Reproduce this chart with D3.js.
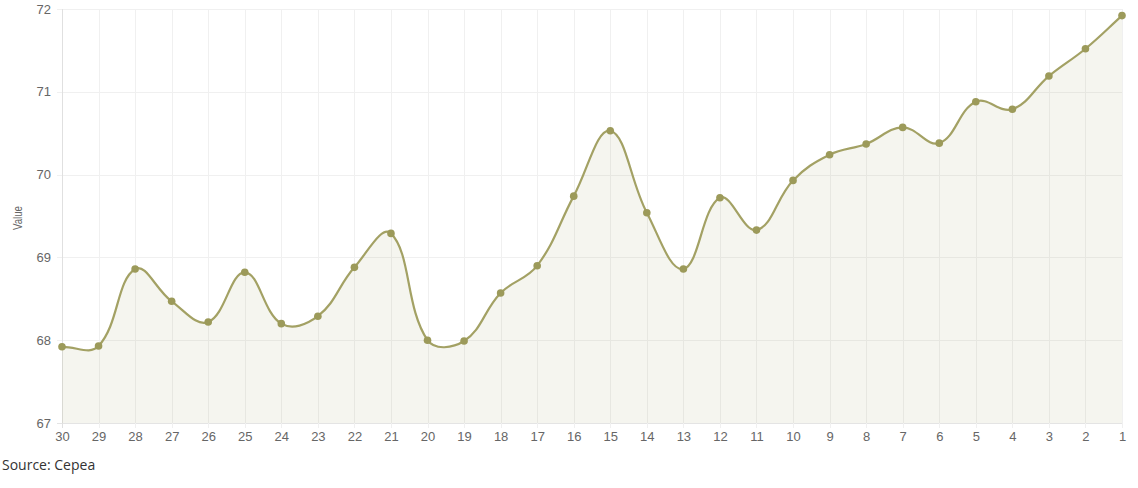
<!DOCTYPE html>
<html>
<head>
<meta charset="utf-8">
<script src="https://cdn.jsdelivr.net/npm/d3@7"></script>
<style>
  html, body { margin: 0; padding: 0; background: #fff; }
  svg { display: block; }
</style>
</head>
<body>
<svg id="chart" width="1138" height="488"></svg>
<script>
// ---- data ----
const categories = ["30","29","28","27","26","25","24","23","22","21","20","19","18","17","16","15","14","13","12","11","10","9","8","7","6","5","4","3","2","1"];
const values = [67.92,67.93,68.86,68.47,68.22,68.82,68.20,68.29,68.88,69.29,68.00,67.99,68.57,68.90,69.74,70.53,69.54,68.86,69.72,69.33,69.93,70.24,70.37,70.57,70.38,70.88,70.79,71.19,71.52,71.92];
const yTicks = [67,68,69,70,71,72];
const yAxisTitle = "Value";
const sourceText = "Source: Cepea";

(function () {
// ---- layout ----
const pLeft = 62, pRight = 1122, pTop = 9, pBottom = 423;
const svg = d3.select("#chart");

const x = d3.scalePoint().domain(categories).range([pLeft, pRight]);
const y = d3.scaleLinear().domain([67, 72]).range([pBottom, pTop]);

// Chart.js-like spline (tension 0.4) as a custom d3 curve
function splineCurve(context) {
  return {
    _line: NaN,
    _pts: null,
    areaStart() { this._line = 0; },
    areaEnd() { this._line = NaN; },
    lineStart() { this._pts = []; },
    point(px, py) { this._pts.push([+px, +py]); },
    lineEnd() {
      const p = this._pts, n = p.length, t = 0.4;
      if (n) {
        if (this._line) context.lineTo(p[0][0], p[0][1]); else context.moveTo(p[0][0], p[0][1]);
        const cps = p.map((cur, i) => {
          const prev = i > 0 ? p[i - 1] : cur;
          const next = i < n - 1 ? p[i + 1] : cur;
          const d01 = Math.hypot(cur[0] - prev[0], cur[1] - prev[1]);
          const d12 = Math.hypot(next[0] - cur[0], next[1] - cur[1]);
          let s01 = d01 / (d01 + d12), s12 = d12 / (d01 + d12);
          if (isNaN(s01)) s01 = 0; if (isNaN(s12)) s12 = 0;
          const fa = t * s01, fb = t * s12;
          return {
            prev: [cur[0] - fa * (next[0] - prev[0]), cur[1] - fa * (next[1] - prev[1])],
            next: [cur[0] + fb * (next[0] - prev[0]), cur[1] + fb * (next[1] - prev[1])]
          };
        });
        for (let i = 1; i < n; i++) {
          context.bezierCurveTo(cps[i - 1].next[0], cps[i - 1].next[1], cps[i].prev[0], cps[i].prev[1], p[i][0], p[i][1]);
        }
      }
      if (this._line || (this._line !== 0 && n === 1)) context.closePath();
      this._line = 1 - this._line;
    }
  };
}

const data = categories.map((c, i) => ({ c, v: values[i] }));

// grid
const grid = svg.append("g");
grid.selectAll("line.h").data(yTicks).join("line")
  .attr("x1", pLeft - 5).attr("x2", pRight)
  .attr("y1", d => Math.round(y(d)) + 0.5).attr("y2", d => Math.round(y(d)) + 0.5)
  .attr("stroke", d => d === 67 ? "#e4e4e4" : "#f0f0f0").attr("stroke-width", 1);
grid.selectAll("line.v").data(categories).join("line")
  .attr("x1", d => Math.round(x(d)) + 0.5).attr("x2", d => Math.round(x(d)) + 0.5)
  .attr("y1", pTop).attr("y2", pBottom + 5)
  .attr("stroke", (d, i) => i === 0 ? "#e0e0e0" : "#f0f0f0").attr("stroke-width", 1);

// area
const area = d3.area().x(d => x(d.c)).y0(y(67)).y1(d => y(d.v)).curve(splineCurve);
svg.append("path").datum(data).attr("d", area).attr("fill", "rgba(160,158,100,0.1)");

// line
const line = d3.line().x(d => x(d.c)).y(d => y(d.v)).curve(splineCurve);
svg.append("path").datum(data).attr("d", line)
  .attr("fill", "none").attr("stroke", "#a3a164").attr("stroke-width", 2.2);

// points
svg.selectAll("circle.pt").data(data).join("circle")
  .attr("cx", d => x(d.c)).attr("cy", d => y(d.v)).attr("r", 3.8)
  .attr("fill", "#9c9a5a");

// y axis labels
const yAxis = d3.axisLeft(y).tickValues(yTicks).tickSize(0).tickPadding(0).tickFormat(d3.format("d"));
const gy = svg.append("g").attr("transform", `translate(${pLeft - 11},0)`).call(yAxis);
gy.select(".domain").remove();
gy.selectAll("text").attr("font-family", "'Liberation Sans', Arial, sans-serif").attr("font-size", 13).attr("fill", "#666");

// x axis labels
const xAxis = d3.axisBottom(x).tickSize(0).tickPadding(0);
const gx = svg.append("g").attr("transform", `translate(0,${pBottom + 9})`).call(xAxis);
gx.select(".domain").remove();
gx.selectAll("text").attr("font-family", "'Liberation Sans', Arial, sans-serif").attr("font-size", 13).attr("fill", "#666");

// y title
svg.append("text")
  .attr("transform", `translate(22,218) rotate(-90)`)
  .attr("text-anchor", "middle")
  .attr("font-family", "'Liberation Sans', Arial, sans-serif").attr("font-size", 12).attr("fill", "#666")
  .attr("textLength", 24).attr("lengthAdjust", "spacingAndGlyphs")
  .text(yAxisTitle);

// source
svg.append("text").attr("x", 2).attr("y", 470)
  .attr("font-family", "'Open Sans', sans-serif").attr("font-size", 14).attr("fill", "#333")
  .text(sourceText);
})();
</script>
</body>
</html>
